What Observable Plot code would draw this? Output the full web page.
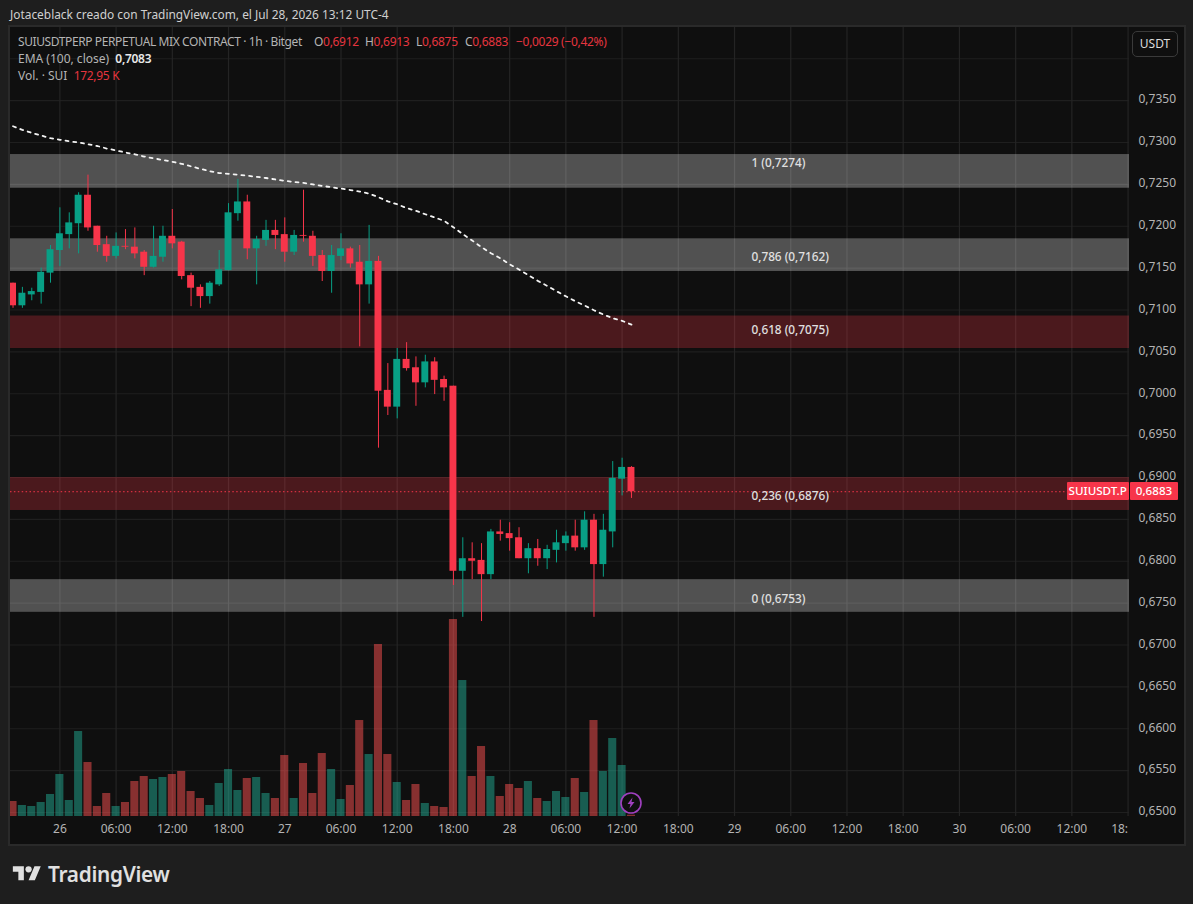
<!DOCTYPE html>
<html lang="es">
<head>
<meta charset="utf-8">
<title>SUIUSDT.P</title>
<script src="https://cdn.jsdelivr.net/npm/d3@7"></script>
<script src="https://cdn.jsdelivr.net/npm/@observablehq/plot@0.6"></script>
<style>
  html,body{margin:0;padding:0;background:#1e1e1e;width:1193px;height:904px;overflow:hidden;font-family:"Noto Sans",sans-serif;}
  #stage{position:relative;width:1193px;height:904px;}
  #frame{position:absolute;left:8px;top:25px;width:1174px;height:817px;background:#0f0f0f;border:2px solid #2a2a2a;}
  #stage svg.chart{position:absolute;left:0;top:0;background:transparent;}
  .t{position:absolute;white-space:pre;font-size:12px;line-height:16px;color:#b4b4b4;}
  .h{top:34px;letter-spacing:-.3px}
  .red{color:#e5353f}
  .wh{color:#e8e8e8;font-weight:600;letter-spacing:-.3px}
  #usdt{position:absolute;left:1132px;top:31px;width:46px;height:26px;box-sizing:border-box;background:#0f0f0f;border:1.5px solid #3a3a3a;border-radius:5px;color:#dcdcdc;font-size:12px;line-height:23px;text-align:center;}
  .tag{position:absolute;height:18px;line-height:18px;background:#f7354a;color:#fff;font-size:11.6px;text-align:center;font-weight:500;border-radius:1px;}
</style>
</head>
<body>
<div id="stage">
  <div id="frame"></div>
  <div class="t" id="byline" style="left:10px;top:6px;color:#d0d0d0;font-size:11.9px">Jotaceblack creado con TradingView.com, el Jul 28, 2026 13:12 UTC-4</div>
  <div id="slot"></div>
  <div class="t h" style="left:18px;letter-spacing:-.4px">SUIUSDTPERP PERPETUAL MIX CONTRACT · 1h · Bitget</div>
  <div class="t h" style="left:314px">O<span class="red">0,6912</span></div>
  <div class="t h" style="left:365px">H<span class="red">0,6913</span></div>
  <div class="t h" style="left:416px">L<span class="red">0,6875</span></div>
  <div class="t h" style="left:465px">C<span class="red">0,6883</span></div>
  <div class="t h red" style="left:516px">−0,0029 (−0,42%)</div>
  <div class="t" style="left:18px;top:51px">EMA (100, close)  <span class="wh">0,7083</span></div>
  <div class="t" style="left:18px;top:68px">Vol. · SUI  <span class="red" style="letter-spacing:-.3px">172,95 K</span></div>
  <div id="usdt">USDT</div>
  <svg style="position:absolute;left:11px;top:863px" width="32" height="22" viewBox="0 0 36 28"><path fill="#e0e0e0" d="M14 22H7V11H0V4h14v18zM28 22h-8l7.5-18h8L28 22z"/><circle fill="#e0e0e0" cx="20" cy="8" r="4"/></svg>
  <div class="t" style="left:48px;top:860px;font-size:20.8px;line-height:28px;font-weight:600;color:#e0e0e0;letter-spacing:-.3px">TradingView</div>
</div>
<script>
// Hours since 26 Jul 00:00 of each hourly candle
const hours = d3.range(-5, 62);
const opens = [0.7132,0.7105,0.7118,0.7121,0.7144,0.7171,0.7190,0.7203,0.7237,0.7200,0.7178,0.7164,0.7176,0.7175,0.7169,0.7151,0.7163,0.7188,0.7181,0.7141,0.7127,0.7116,0.7130,0.7147,0.7215,0.7229,0.7173,0.7183,0.7195,0.7190,0.7169,0.7189,0.7188,0.7165,0.7146,0.7164,0.7173,0.7157,0.7130,0.7158,0.7004,0.6984,0.7041,0.7031,0.7013,0.7038,0.7017,0.7009,0.6788,0.6803,0.6801,0.6784,0.6835,0.6833,0.6828,0.6803,0.6815,0.6803,0.6813,0.6821,0.6830,0.6816,0.6849,0.6796,0.6835,0.6898,0.6912];
const closes = [0.7105,0.7120,0.7122,0.7145,0.7172,0.7191,0.7204,0.7237,0.7198,0.7177,0.7164,0.7176,0.7175,0.7167,0.7151,0.7164,0.7188,0.7179,0.7140,0.7126,0.7116,0.7132,0.7148,0.7216,0.7229,0.7173,0.7184,0.7195,0.7189,0.7169,0.7189,0.7188,0.7164,0.7146,0.7165,0.7173,0.7155,0.7130,0.7158,0.7003,0.6984,0.7041,0.7030,0.7013,0.7038,0.7016,0.7007,0.6788,0.6803,0.6800,0.6784,0.6835,0.6832,0.6827,0.6803,0.6815,0.6803,0.6814,0.6822,0.6830,0.6816,0.6849,0.6796,0.6837,0.6899,0.6912,0.6883];
const highs = [0.7132,0.7127,0.7126,0.7150,0.7177,0.7222,0.7216,0.7240,0.7261,0.7200,0.7188,0.7192,0.7196,0.7198,0.7171,0.7200,0.7200,0.7220,0.7182,0.7144,0.7130,0.7134,0.7171,0.7227,0.7256,0.7237,0.7188,0.7207,0.7207,0.7210,0.7195,0.7243,0.7194,0.7171,0.7177,0.7191,0.7175,0.7177,0.7201,0.7164,0.7036,0.7054,0.7061,0.7044,0.7046,0.7043,0.7021,0.7009,0.6828,0.6822,0.6821,0.6838,0.6849,0.6846,0.6840,0.6821,0.6826,0.6819,0.6837,0.6835,0.6849,0.6859,0.6856,0.6856,0.6919,0.6923,0.6913];
const lows = [0.7102,0.7102,0.7111,0.7107,0.7132,0.7152,0.7173,0.7167,0.7194,0.7169,0.7157,0.7161,0.7172,0.7161,0.7141,0.7150,0.7157,0.7173,0.7136,0.7104,0.7102,0.7107,0.7128,0.7147,0.7206,0.7160,0.7130,0.7176,0.7172,0.7157,0.7165,0.7181,0.7152,0.7134,0.7120,0.7159,0.7150,0.7056,0.7107,0.6935,0.6974,0.6970,0.7027,0.6985,0.7007,0.6999,0.6991,0.6771,0.6733,0.6778,0.6728,0.6778,0.6824,0.6812,0.6803,0.6785,0.6794,0.6790,0.6798,0.6812,0.6812,0.6813,0.6733,0.6781,0.6816,0.6878,0.6875];
// Volume, thousands of SUI
const volumes = [1995,1463,1330,1862,2926,5586,2128,11305,7182,1330,3059,1330,1862,4655,5320,4921,5187,5586,5985,3325,2394,1463,4389,6251,3458,5054,5187,3059,2394,8113,2394,7049,3059,8379,6251,2261,4123,12768,8246,22876,8246,4522,2128,4256,1729,1330,1197,26201,18088,5320,9310,5320,2660,4256,3724,4655,2394,1995,3325,2527,5054,3192,12768,5985,10374,6783,173];
const ema = [0.73194,0.73151,0.73115,0.73083,0.73051,0.73032,0.73014,0.73000,0.72979,0.72958,0.72928,0.72906,0.72880,0.72859,0.72832,0.72811,0.72790,0.72770,0.72745,0.72715,0.72685,0.72657,0.72635,0.72626,0.72615,0.72603,0.72590,0.72576,0.72558,0.72542,0.72528,0.72518,0.72500,0.72482,0.72465,0.72450,0.72432,0.72414,0.72390,0.72346,0.72297,0.72262,0.72217,0.72184,0.72143,0.72104,0.72065,0.71988,0.71905,0.71830,0.71750,0.71678,0.71618,0.71546,0.71483,0.71415,0.71348,0.71288,0.71224,0.71164,0.71105,0.71053,0.70997,0.70946,0.70902,0.70870,0.70826];

// Fibonacci zones
const zoneTops    = [0.72856,0.71850,0.70928,0.69000,0.67780];
const zoneBottoms = [0.72454,0.71460,0.70540,0.68606,0.67390];
const zoneKinds   = ["grey","grey","red","red","grey"];
const fibLabels   = ["1 (0,7274)","0,786 (0,7162)","0,618 (0,7075)","0,236 (0,6876)","0 (0,6753)"];
const fibLevels   = [0.7274,0.7162,0.7075,0.6876,0.6753];

const priceTicks = d3.range(0, 18).map(i => 0.65 + i * 0.005);
const gridPrices = d3.range(0, 19).map(i => 0.65 + i * 0.005);
const timeTicks  = [0,6,12,18,24,30,36,42,48,54,60,66,72,78,84,90,96,102,108,114];
const timeLabels = ["26","06:00","12:00","18:00","27","06:00","12:00","18:00","28","06:00","12:00","18:00","29","06:00","12:00","18:00","30","06:00","12:00","18:"];
const lastClose = 0.6883;

const UP = "#089f85", DOWN = "#f7354a", AXIS = "#b4b4b4";
const xDomain = [-5.27, 114.15], yDomain = [0.64952, 0.74373];
const comma = d => d.toFixed(4).replace(".", ",");
const labelOf = d => timeLabels[timeTicks.indexOf(d)];

const candles = hours.map((t, i) => ({t, o: opens[i], c: closes[i], h: highs[i], l: lows[i], v: volumes[i], e: ema[i], up: closes[i] >= opens[i]}));
const zones = zoneTops.map((top, i) => ({top, bottom: zoneBottoms[i], kind: zoneKinds[i], label: fibLabels[i], level: fibLevels[i]}));
const volY = d3.scaleLinear([0, d3.max(volumes)], [yDomain[0], 0.67304]);
const fibLabelHour = 73.8;

const chart = Plot.plot({
  width: 1193, height: 904,
  marginLeft: 10, marginRight: 64, marginTop: 27, marginBottom: 88,
  style: {background: "transparent", fontFamily: '"Noto Sans", sans-serif', fontSize: "12px"},
  className: "chart",
  x: {domain: xDomain, axis: null},
  y: {domain: yDomain, axis: null},
  marks: [
    Plot.ruleY(gridPrices, {stroke: "#1f1f1f", strokeWidth: 1.2}),
    Plot.ruleX(timeTicks, {stroke: "#242424", strokeWidth: 1.2}),
    Plot.rect(zones, {x1: xDomain[0], x2: xDomain[1], y1: "bottom", y2: "top",
      fill: d => d.kind === "red" ? "#f23645" : "#ffffff",
      fillOpacity: d => d.kind === "red" ? 0.27 : 0.28}),
    Plot.rect(zones.slice(0, 2), {x1: xDomain[0], x2: xDomain[1], y1: "bottom", y2: d => d.level === 0.7274 ? 0.725 : 0.715,
      fill: "#ffffff", fillOpacity: 0.025}),
    Plot.rect(candles, {x1: d => d.t - 0.43, x2: d => d.t + 0.43, y1: yDomain[0], y2: d => volY(d.v),
      fill: d => d.up ? "#22ab94" : "#ff5252", fillOpacity: 0.5, clip: "frame"}),
    Plot.ruleY([lastClose], {x1: xDomain[0], x2: 107.6, stroke: DOWN, strokeWidth: 1, strokeDasharray: "1.5 2.4"}),
    Plot.ruleX(candles, {x: "t", y1: "l", y2: "h", stroke: d => d.up ? UP : DOWN, strokeWidth: 1}),
    Plot.rect(candles, {x1: d => d.t - 0.37, x2: d => d.t + 0.37, y1: "o", y2: "c", fill: d => d.up ? UP : DOWN, clip: "frame"}),
    Plot.line(candles, {x: "t", y: "e", stroke: "#f4f4f4", strokeWidth: 1.8, strokeDasharray: "3 4.8"}),
    Plot.text(zones, {x: fibLabelHour, y: "level", text: "label", textAnchor: "start", dy: -1, fill: "#e0e0e0", fontWeight: 500, fontSize: 11.8}),
    Plot.axisX({ticks: timeTicks.slice(0, -1), tickSize: 0, tickPadding: 8, tickFormat: labelOf, fill: AXIS, label: null}),
    Plot.axisX({ticks: timeTicks.slice(-1), tickSize: 0, tickPadding: 8, tickFormat: labelOf, textAnchor: "end", fill: AXIS, label: null}),
    Plot.axisY({anchor: "right", ticks: priceTicks, tickSize: 0, tickPadding: 9, dy: -1, tickFormat: comma, fill: AXIS, label: null})
  ]
});
chart.classList.add("chart");
document.getElementById("slot").appendChild(chart);

// Tags and event marker positioned through the chart's own scales
const yS = chart.scale("y"), xS = chart.scale("x");
const stage = document.getElementById("stage");
const tagY = yS.apply(lastClose) - 9;
const addTag = (txt, left, width) => {
  const el = document.createElement("div");
  el.className = "tag"; el.textContent = txt;
  el.style.left = left + "px"; el.style.top = tagY + "px"; el.style.width = width + "px";
  stage.appendChild(el);
};
addTag("SUIUSDT.P", xS.apply(107.5), 62);
addTag(comma(lastClose), xS.apply(xDomain[1]) + 1, 48);

const bolt = document.createElementNS("http://www.w3.org/2000/svg", "svg");
bolt.setAttribute("width", 24); bolt.setAttribute("height", 24); bolt.setAttribute("viewBox", "0 0 24 24");
bolt.style.cssText = `position:absolute;left:${xS.apply(61) - 12}px;top:${yS.apply(yDomain[0]) - 25}px`;
bolt.innerHTML = '<circle cx="12" cy="12" r="10" fill="#0f0f0f" stroke="#a040c0" stroke-width="1.6"/><path d="M13.5 6.5 8.5 13h3l-1 4.5 5-6.5h-3z" fill="#a040c0"/>';
stage.appendChild(bolt);
</script>
</body>
</html>
